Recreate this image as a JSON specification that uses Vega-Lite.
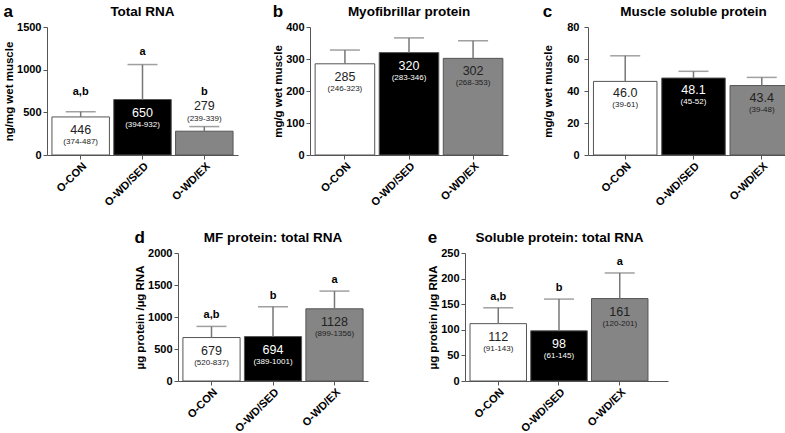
{
  "$schema": "https://vega.github.io/schema/vega-lite/v6.json",
  "padding": {"left": 3, "top": 2, "right": 0, "bottom": 0},
  "background": "white",
  "config": {
    "font": "Liberation Sans",
    "view": {"stroke": null},
    "title": {"fontSize": 13.5, "fontWeight": "bold", "color": "#000", "offset": 3},
    "axis": {"labelFontSize": 11, "labelFontWeight": "bold", "labelColor": "#000", "titleFontSize": 11.5, "titleFontWeight": "bold", "titleColor": "#000", "domainColor": "#555", "tickColor": "#555", "grid": false, "tickSize": 4, "labelOverlap": false},
    "axisY": {"titlePadding": 2, "labelPadding": 2, "format": "d"},
    "axisX": {"labelFontSize": 11, "labelPadding": 1}
  },
  "datasets": {
    "bars": [
      {"panel": "a", "group": "O-CON", "mean": 446, "upper": 507, "label": "446", "range": "(374-487)", "letter": "a,b"},
      {"panel": "a", "group": "O-WD/SED", "mean": 650, "upper": 1060, "label": "650", "range": "(394-932)", "letter": "a"},
      {"panel": "a", "group": "O-WD/EX", "mean": 279, "upper": 333, "label": "279", "range": "(239-339)", "letter": "b"},
      {"panel": "b", "group": "O-CON", "mean": 285, "upper": 328, "label": "285", "range": "(246-323)", "letter": ""},
      {"panel": "b", "group": "O-WD/SED", "mean": 320, "upper": 366, "label": "320", "range": "(283-346)", "letter": ""},
      {"panel": "b", "group": "O-WD/EX", "mean": 302, "upper": 357, "label": "302", "range": "(268-353)", "letter": ""},
      {"panel": "c", "group": "O-CON", "mean": 46.0, "upper": 62, "label": "46.0", "range": "(39-61)", "letter": ""},
      {"panel": "c", "group": "O-WD/SED", "mean": 48.1, "upper": 52.3, "label": "48.1", "range": "(45-52)", "letter": ""},
      {"panel": "c", "group": "O-WD/EX", "mean": 43.4, "upper": 48.5, "label": "43.4", "range": "(39-48)", "letter": ""},
      {"panel": "d", "group": "O-CON", "mean": 679, "upper": 853, "label": "679", "range": "(520-837)", "letter": "a,b"},
      {"panel": "d", "group": "O-WD/SED", "mean": 694, "upper": 1160, "label": "694", "range": "(389-1001)", "letter": "b"},
      {"panel": "d", "group": "O-WD/EX", "mean": 1128, "upper": 1405, "label": "1128", "range": "(899-1356)", "letter": "a"},
      {"panel": "e", "group": "O-CON", "mean": 112, "upper": 143, "label": "112", "range": "(91-143)", "letter": "a,b"},
      {"panel": "e", "group": "O-WD/SED", "mean": 98, "upper": 160, "label": "98", "range": "(61-145)", "letter": "b"},
      {"panel": "e", "group": "O-WD/EX", "mean": 161, "upper": 211, "label": "161", "range": "(120-201)", "letter": "a"}
    ]
  },
  "center": true,
  "spacing": 20,
  "vconcat": [
    {
      "spacing": 34,
      "hconcat": [
        {
          "title": {"text": "a", "anchor": "start", "frame": "bounds", "fontSize": 17, "offset": -16},
          "vconcat": [{
            "width": 191, "height": 128,
            "title": "Total RNA",
            "data": {"name": "bars"},
            "transform": [{"filter": "datum.panel === 'a'"}],
            "encoding": {"x": {"field": "group", "type": "nominal", "sort": ["O-CON", "O-WD/SED", "O-WD/EX"], "scale": {"paddingInner": 0.07, "paddingOuter": 0.08}, "axis": {"title": null, "labelAngle": -45}}},
            "layer": [
              {"mark": {"type": "bar", "stroke": "#555", "strokeWidth": 1}, "encoding": {"y": {"field": "mean", "type": "quantitative", "scale": {"domain": [0, 1500], "nice": false}, "axis": {"title": "ng/mg wet muscle", "values": [0, 500, 1000, 1500]}}, "fill": {"field": "group", "type": "nominal", "scale": {"domain": ["O-CON", "O-WD/SED", "O-WD/EX"], "range": ["#ffffff", "#000000", "#858585"]}, "legend": null}}},
              {"mark": {"type": "rule", "color": "#777", "strokeWidth": 1.5}, "encoding": {"y": {"field": "mean", "type": "quantitative", "axis": {"title": "ng/mg wet muscle", "values": [0, 500, 1000, 1500]}}, "y2": {"field": "upper"}}},
              {"mark": {"type": "tick", "color": "#777", "thickness": 1.5, "size": 30}, "encoding": {"y": {"field": "upper", "type": "quantitative", "axis": {"title": "ng/mg wet muscle", "values": [0, 500, 1000, 1500]}}}},
              {"transform": [{"filter": "datum.group !== 'O-WD/EX'"}], "mark": {"type": "text", "dy": 13, "fontSize": 12.5}, "encoding": {"y": {"field": "mean", "type": "quantitative", "axis": {"title": "ng/mg wet muscle", "values": [0, 500, 1000, 1500]}}, "text": {"field": "label"}, "color": {"condition": {"test": "datum.group === 'O-WD/SED'", "value": "#ffffff"}, "value": "#222222"}}},
              {"transform": [{"filter": "datum.group !== 'O-WD/EX'"}], "mark": {"type": "text", "dy": 25, "fontSize": 8}, "encoding": {"y": {"field": "mean", "type": "quantitative", "axis": {"title": "ng/mg wet muscle", "values": [0, 500, 1000, 1500]}}, "text": {"field": "range"}, "color": {"condition": {"test": "datum.group === 'O-WD/SED'", "value": "#ffffff"}, "value": "#222222"}}},
              {"transform": [{"filter": "datum.group === 'O-WD/EX'"}], "mark": {"type": "text", "dy": -25, "fontSize": 12.5, "color": "#222222"}, "encoding": {"y": {"field": "mean", "type": "quantitative", "axis": {"title": "ng/mg wet muscle", "values": [0, 500, 1000, 1500]}}, "text": {"field": "label"}}},
              {"transform": [{"filter": "datum.group === 'O-WD/EX'"}], "mark": {"type": "text", "dy": -12, "fontSize": 8, "color": "#222222"}, "encoding": {"y": {"field": "mean", "type": "quantitative", "axis": {"title": "ng/mg wet muscle", "values": [0, 500, 1000, 1500]}}, "text": {"field": "range"}}},
              {"transform": [{"filter": "datum.group === 'O-CON'"}], "mark": {"type": "text", "dy": -20, "fontSize": 11, "fontWeight": "bold", "color": "#000"}, "encoding": {"y": {"field": "upper", "type": "quantitative", "axis": {"title": "ng/mg wet muscle", "values": [0, 500, 1000, 1500]}}, "text": {"field": "letter"}}},
              {"transform": [{"filter": "datum.group === 'O-WD/SED'"}], "mark": {"type": "text", "dy": -13, "fontSize": 11, "fontWeight": "bold", "color": "#000"}, "encoding": {"y": {"field": "upper", "type": "quantitative", "axis": {"title": "ng/mg wet muscle", "values": [0, 500, 1000, 1500]}}, "text": {"field": "letter"}}},
              {"transform": [{"filter": "datum.group === 'O-WD/EX'"}], "mark": {"type": "text", "dy": -35, "fontSize": 11, "fontWeight": "bold", "color": "#000"}, "encoding": {"y": {"field": "upper", "type": "quantitative", "axis": {"title": "ng/mg wet muscle", "values": [0, 500, 1000, 1500]}}, "text": {"field": "letter"}}}
            ]
          }]
        },
        {
          "title": {"text": "b", "anchor": "start", "frame": "bounds", "fontSize": 17, "offset": -16},
          "vconcat": [{
            "width": 198, "height": 128,
            "title": "Myofibrillar protein",
            "data": {"name": "bars"},
            "transform": [{"filter": "datum.panel === 'b'"}],
            "encoding": {"x": {"field": "group", "type": "nominal", "sort": ["O-CON", "O-WD/SED", "O-WD/EX"], "scale": {"paddingInner": 0.07, "paddingOuter": 0.08}, "axis": {"title": null, "labelAngle": -45}}},
            "layer": [
              {"mark": {"type": "bar", "stroke": "#555", "strokeWidth": 1}, "encoding": {"y": {"field": "mean", "type": "quantitative", "scale": {"domain": [0, 400], "nice": false}, "axis": {"title": "mg/g wet muscle", "values": [0, 100, 200, 300, 400]}}, "fill": {"field": "group", "type": "nominal", "scale": {"domain": ["O-CON", "O-WD/SED", "O-WD/EX"], "range": ["#ffffff", "#000000", "#858585"]}, "legend": null}}},
              {"mark": {"type": "rule", "color": "#777", "strokeWidth": 1.5}, "encoding": {"y": {"field": "mean", "type": "quantitative", "axis": {"title": "mg/g wet muscle", "values": [0, 100, 200, 300, 400]}}, "y2": {"field": "upper"}}},
              {"mark": {"type": "tick", "color": "#777", "thickness": 1.5, "size": 30}, "encoding": {"y": {"field": "upper", "type": "quantitative", "axis": {"title": "mg/g wet muscle", "values": [0, 100, 200, 300, 400]}}}},
              {"mark": {"type": "text", "dy": 13, "fontSize": 12.5}, "encoding": {"y": {"field": "mean", "type": "quantitative", "axis": {"title": "mg/g wet muscle", "values": [0, 100, 200, 300, 400]}}, "text": {"field": "label"}, "color": {"condition": {"test": "datum.group === 'O-WD/SED'", "value": "#ffffff"}, "value": "#222222"}}},
              {"mark": {"type": "text", "dy": 25, "fontSize": 8}, "encoding": {"y": {"field": "mean", "type": "quantitative", "axis": {"title": "mg/g wet muscle", "values": [0, 100, 200, 300, 400]}}, "text": {"field": "range"}, "color": {"condition": {"test": "datum.group === 'O-WD/SED'", "value": "#ffffff"}, "value": "#222222"}}}
            ]
          }]
        },
        {
          "title": {"text": "c", "anchor": "start", "frame": "bounds", "fontSize": 17, "offset": -16},
          "vconcat": [{
            "width": 211, "height": 128,
            "title": "Muscle soluble protein",
            "data": {"name": "bars"},
            "transform": [{"filter": "datum.panel === 'c'"}],
            "encoding": {"x": {"field": "group", "type": "nominal", "sort": ["O-CON", "O-WD/SED", "O-WD/EX"], "scale": {"paddingInner": 0.07, "paddingOuter": 0.08}, "axis": {"title": null, "labelAngle": -45}}},
            "layer": [
              {"mark": {"type": "bar", "stroke": "#555", "strokeWidth": 1}, "encoding": {"y": {"field": "mean", "type": "quantitative", "scale": {"domain": [0, 80], "nice": false}, "axis": {"title": "mg/g wet muscle", "values": [0, 20, 40, 60, 80], "titlePadding": 13, "labelPadding": 5}}, "fill": {"field": "group", "type": "nominal", "scale": {"domain": ["O-CON", "O-WD/SED", "O-WD/EX"], "range": ["#ffffff", "#000000", "#858585"]}, "legend": null}}},
              {"mark": {"type": "rule", "color": "#777", "strokeWidth": 1.5}, "encoding": {"y": {"field": "mean", "type": "quantitative", "axis": {"title": "mg/g wet muscle", "values": [0, 20, 40, 60, 80], "titlePadding": 13, "labelPadding": 5}}, "y2": {"field": "upper"}}},
              {"mark": {"type": "tick", "color": "#777", "thickness": 1.5, "size": 30}, "encoding": {"y": {"field": "upper", "type": "quantitative", "axis": {"title": "mg/g wet muscle", "values": [0, 20, 40, 60, 80], "titlePadding": 13, "labelPadding": 5}}}},
              {"mark": {"type": "text", "dy": 12, "fontSize": 12.5}, "encoding": {"y": {"field": "mean", "type": "quantitative", "axis": {"title": "mg/g wet muscle", "values": [0, 20, 40, 60, 80], "titlePadding": 13, "labelPadding": 5}}, "text": {"field": "label"}, "color": {"condition": {"test": "datum.group === 'O-WD/SED'", "value": "#ffffff"}, "value": "#222222"}}},
              {"mark": {"type": "text", "dy": 24, "fontSize": 8}, "encoding": {"y": {"field": "mean", "type": "quantitative", "axis": {"title": "mg/g wet muscle", "values": [0, 20, 40, 60, 80], "titlePadding": 13, "labelPadding": 5}}, "text": {"field": "range"}, "color": {"condition": {"test": "datum.group === 'O-WD/SED'", "value": "#ffffff"}, "value": "#222222"}}}
            ]
          }]
        }
      ]
    },
    {
      "spacing": 59,
      "hconcat": [
        {
          "title": {"text": "d", "anchor": "start", "frame": "bounds", "fontSize": 17, "offset": -16},
          "vconcat": [{
            "width": 190, "height": 128,
            "title": "MF protein: total RNA",
            "data": {"name": "bars"},
            "transform": [{"filter": "datum.panel === 'd'"}],
            "encoding": {"x": {"field": "group", "type": "nominal", "sort": ["O-CON", "O-WD/SED", "O-WD/EX"], "scale": {"paddingInner": 0.07, "paddingOuter": 0.08}, "axis": {"title": null, "labelAngle": -45}}},
            "layer": [
              {"mark": {"type": "bar", "stroke": "#555", "strokeWidth": 1}, "encoding": {"y": {"field": "mean", "type": "quantitative", "scale": {"domain": [0, 2000], "nice": false}, "axis": {"title": "µg protein /µg RNA", "values": [0, 500, 1000, 1500, 2000]}}, "fill": {"field": "group", "type": "nominal", "scale": {"domain": ["O-CON", "O-WD/SED", "O-WD/EX"], "range": ["#ffffff", "#000000", "#858585"]}, "legend": null}}},
              {"mark": {"type": "rule", "color": "#777", "strokeWidth": 1.5}, "encoding": {"y": {"field": "mean", "type": "quantitative", "axis": {"title": "µg protein /µg RNA", "values": [0, 500, 1000, 1500, 2000]}}, "y2": {"field": "upper"}}},
              {"mark": {"type": "tick", "color": "#777", "thickness": 1.5, "size": 30}, "encoding": {"y": {"field": "upper", "type": "quantitative", "axis": {"title": "µg protein /µg RNA", "values": [0, 500, 1000, 1500, 2000]}}}},
              {"mark": {"type": "text", "dy": 13, "fontSize": 12.5}, "encoding": {"y": {"field": "mean", "type": "quantitative", "axis": {"title": "µg protein /µg RNA", "values": [0, 500, 1000, 1500, 2000]}}, "text": {"field": "label"}, "color": {"condition": {"test": "datum.group === 'O-WD/SED'", "value": "#ffffff"}, "value": "#222222"}}},
              {"mark": {"type": "text", "dy": 25, "fontSize": 8}, "encoding": {"y": {"field": "mean", "type": "quantitative", "axis": {"title": "µg protein /µg RNA", "values": [0, 500, 1000, 1500, 2000]}}, "text": {"field": "range"}, "color": {"condition": {"test": "datum.group === 'O-WD/SED'", "value": "#ffffff"}, "value": "#222222"}}},
              {"mark": {"type": "text", "dy": -11, "fontSize": 11, "fontWeight": "bold", "color": "#000"}, "encoding": {"y": {"field": "upper", "type": "quantitative", "axis": {"title": "µg protein /µg RNA", "values": [0, 500, 1000, 1500, 2000]}}, "text": {"field": "letter"}}}
            ]
          }]
        },
        {
          "title": {"text": "e", "anchor": "start", "frame": "bounds", "fontSize": 17, "offset": -16},
          "vconcat": [{
            "width": 203, "height": 128,
            "title": {"text": "Soluble protein: total RNA", "dx": -7},
            "data": {"name": "bars"},
            "transform": [{"filter": "datum.panel === 'e'"}],
            "encoding": {"x": {"field": "group", "type": "nominal", "sort": ["O-CON", "O-WD/SED", "O-WD/EX"], "scale": {"paddingInner": 0.07, "paddingOuter": 0.206, "align": 0.2}, "axis": {"title": null, "labelAngle": -45}}},
            "layer": [
              {"mark": {"type": "bar", "stroke": "#555", "strokeWidth": 1}, "encoding": {"y": {"field": "mean", "type": "quantitative", "scale": {"domain": [0, 250], "nice": false}, "axis": {"title": "µg protein /µg RNA", "values": [0, 50, 100, 150, 200, 250]}}, "fill": {"field": "group", "type": "nominal", "scale": {"domain": ["O-CON", "O-WD/SED", "O-WD/EX"], "range": ["#ffffff", "#000000", "#858585"]}, "legend": null}}},
              {"mark": {"type": "rule", "color": "#777", "strokeWidth": 1.5}, "encoding": {"y": {"field": "mean", "type": "quantitative", "axis": {"title": "µg protein /µg RNA", "values": [0, 50, 100, 150, 200, 250]}}, "y2": {"field": "upper"}}},
              {"mark": {"type": "tick", "color": "#777", "thickness": 1.5, "size": 30}, "encoding": {"y": {"field": "upper", "type": "quantitative", "axis": {"title": "µg protein /µg RNA", "values": [0, 50, 100, 150, 200, 250]}}}},
              {"mark": {"type": "text", "dy": 13, "fontSize": 12.5}, "encoding": {"y": {"field": "mean", "type": "quantitative", "axis": {"title": "µg protein /µg RNA", "values": [0, 50, 100, 150, 200, 250]}}, "text": {"field": "label"}, "color": {"condition": {"test": "datum.group === 'O-WD/SED'", "value": "#ffffff"}, "value": "#222222"}}},
              {"mark": {"type": "text", "dy": 25, "fontSize": 8}, "encoding": {"y": {"field": "mean", "type": "quantitative", "axis": {"title": "µg protein /µg RNA", "values": [0, 50, 100, 150, 200, 250]}}, "text": {"field": "range"}, "color": {"condition": {"test": "datum.group === 'O-WD/SED'", "value": "#ffffff"}, "value": "#222222"}}},
              {"mark": {"type": "text", "dy": -11, "fontSize": 11, "fontWeight": "bold", "color": "#000"}, "encoding": {"y": {"field": "upper", "type": "quantitative", "axis": {"title": "µg protein /µg RNA", "values": [0, 50, 100, 150, 200, 250]}}, "text": {"field": "letter"}}}
            ]
          }]
        }
      ]
    }
  ]
}
